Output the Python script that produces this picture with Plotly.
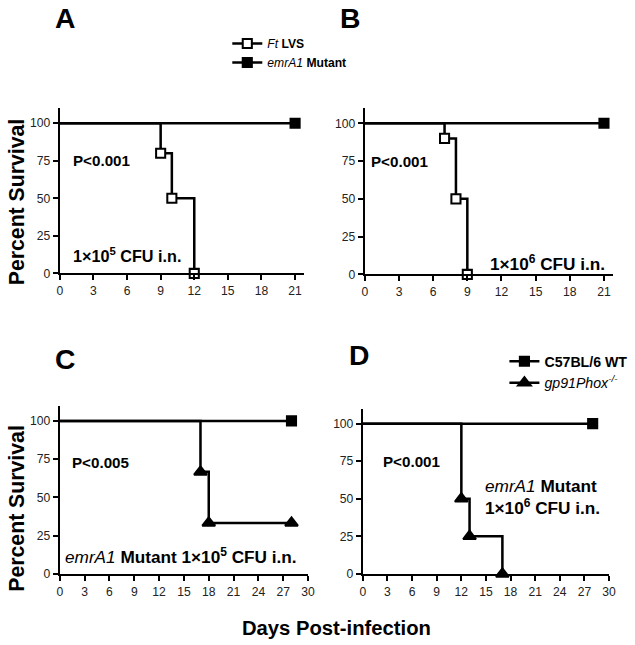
import plotly.graph_objects as go

# ---------------- data ----------------
A_days_lvs = [0, 9, 10, 12]
A_surv_lvs = [100, 80, 50, 0]
A_days_mut = [0, 21]
A_surv_mut = [100, 100]

B_days_lvs = [0, 7, 8, 9]
B_surv_lvs = [100, 90, 50, 0]
B_days_mut = [0, 21]
B_surv_mut = [100, 100]

C_days_wt = [0, 28]
C_surv_wt = [100, 100]
C_days_ko = [0, 17, 18, 28]
C_surv_ko = [100, 66.7, 33.3, 33.3]

D_days_wt = [0, 28]
D_surv_wt = [100, 100]
D_days_ko = [0, 12, 13, 17]
D_surv_ko = [100, 50, 25, 0]

y_ticks = [0, 25, 50, 75, 100]
x_ticks_ab = list(range(0, 22, 3))
x_ticks_cd = list(range(0, 31, 3))

# ---------------- style / layout ----------------
S = 1.012            # compensation for the capture scale
W0, H0 = 635, 645    # reference pixel frame
W, H = round(W0 * S), round(H0 * S)

FONT = "Liberation Sans, Arial, sans-serif"
LW = 2.5 * S

fig = go.Figure()

def series(days, surv, xa, ya, symbol, fill, size):
    fig.add_trace(go.Scatter(x=days, y=surv, mode="lines", line=dict(color="black", width=LW, shape="hv"),
                             xaxis=xa, yaxis=ya, showlegend=False, hoverinfo="skip"))
    fig.add_trace(go.Scatter(x=days[1:], y=surv[1:], mode="markers",
                             marker=dict(symbol=symbol, size=size * S, color=fill,
                                         line=dict(color="black", width=2 * S)),
                             xaxis=xa, yaxis=ya, showlegend=False, cliponaxis=False))

series(A_days_mut, A_surv_mut, "x", "y", "square", "black", 9)
series(A_days_lvs, A_surv_lvs, "x", "y", "square", "white", 9)
series(B_days_mut, B_surv_mut, "x2", "y2", "square", "black", 9)
series(B_days_lvs, B_surv_lvs, "x2", "y2", "square", "white", 9)
series(C_days_wt, C_surv_wt, "x3", "y3", "square", "black", 9)
series(C_days_ko, C_surv_ko, "x3", "y3", "triangle-up", "black", 11)
series(D_days_wt, D_surv_wt, "x4", "y4", "square", "black", 9)
series(D_days_ko, D_surv_ko, "x4", "y4", "triangle-up", "black", 11)

# legend entries
def leg(name, symbol, fill, legend, size=9):
    fig.add_trace(go.Scatter(x=[None], y=[None], mode="lines+markers", name=name,
                             line=dict(color="black", width=LW),
                             marker=dict(symbol=symbol, size=size * S, color=fill, line=dict(color="black", width=2 * S)),
                             legend=legend, xaxis="x", yaxis="y"))

leg("<i>Ft</i> <b>LVS</b>", "square", "white", "legend")
leg("<i>emrA1</i> <b>Mutant</b>", "square", "black", "legend")
leg("<b>C57BL/6 WT</b>", "square", "black", "legend2")
leg("<i>gp91Phox<sup>-/-</sup></i>", "triangle-up", "black", "legend2", size=11)

def xd(a, b):
    return [a / W0, b / W0]

def yd(bottom_px, top_px):
    return [(H0 - bottom_px) / H0, (H0 - top_px) / H0]

axis_common = dict(showline=True, linecolor="black", linewidth=2 * S, ticks="outside", ticklen=5 * S,
                   tickwidth=2 * S, tickcolor="black", showgrid=False, zeroline=False,
                   tickfont=dict(family=FONT, size=12 * S, color="#222"), fixedrange=True)

layout_axes = dict(
    xaxis=dict(domain=xd(57, 302), range=[0, 21.8], tickvals=x_ticks_ab, anchor="y", **axis_common),
    yaxis=dict(domain=yd(273, 108), range=[0, 110], tickvals=y_ticks, anchor="x", **axis_common),
    xaxis2=dict(domain=xd(363, 612), range=[0, 21.8], tickvals=x_ticks_ab, anchor="y2", **axis_common),
    yaxis2=dict(domain=yd(274, 108), range=[0, 110], tickvals=y_ticks, anchor="x2", **axis_common),
    xaxis3=dict(domain=xd(57, 306), range=[0, 30], tickvals=x_ticks_cd, anchor="y3", **axis_common),
    yaxis3=dict(domain=yd(573, 405), range=[0, 110], tickvals=y_ticks, anchor="x3", **axis_common),
    xaxis4=dict(domain=xd(361, 608), range=[0, 30], tickvals=x_ticks_cd, anchor="y4", **axis_common),
    yaxis4=dict(domain=yd(573, 408), range=[0, 110], tickvals=y_ticks, anchor="x4", **axis_common),
)

ann = []
def pa(text, x, y, size, xanchor="center", yanchor="middle", angle=0):
    ann.append(dict(text=text, x=x / W0, y=1 - y / H0, xref="paper", yref="paper", showarrow=False,
                    xanchor=xanchor, yanchor=yanchor, textangle=angle,
                    font=dict(family=FONT, size=size * S, color="black")))

def da(text, x, y, xr, yr, size=15, xanchor="left", align="left"):
    ann.append(dict(text=text, x=x, y=y, xref=xr, yref=yr, showarrow=False, xanchor=xanchor,
                    yanchor="middle", align=align, font=dict(family=FONT, size=size * S, color="black")))

pa("<b>A</b>", 62, 18, 28)
pa("<b>B</b>", 348, 18, 28)
pa("<b>C</b>", 62, 358, 28)
pa("<b>D</b>", 357, 354, 28)
pa("<b>Percent Survival</b>", 14, 201, 21, angle=-90)
pa("<b>Percent Survival</b>", 14, 507, 21, angle=-90)
pa("<b>Days Post-infection</b>", 335, 627, 20)

da("<b>P<0.001</b>", 1.0, 75, "x", "y")
da("<b>1×10<sup>5</sup> CFU i.n.</b>", 1.0, 12, "x", "y", size=16)
da("<b>P<0.001</b>", 0.4, 75, "x2", "y2")
da("<b>1×10<sup>6</sup> CFU i.n.</b>", 21.3, 7.5, "x2", "y2", size=17, xanchor="right")
da("<b>P<0.005</b>", 1.2, 73, "x3", "y3")
da("<i>emrA1</i><b> Mutant 1×10<sup>5</sup> CFU i.n.</b>", 0.4, 12, "x3", "y3", size=17)
da("<b>P<0.001</b>", 2.2, 75, "x4", "y4")
da("<i>emrA1</i><b> Mutant</b><br><b>1×10<sup>6</sup> CFU i.n.</b>", 14.6, 51, "x4", "y4", size=17)

fig.update_layout(
    width=W, height=H, margin=dict(l=0, r=0, t=0, b=0),
    paper_bgcolor="white", plot_bgcolor="white",
    font=dict(family=FONT, color="black"),
    annotations=ann,
    legend=dict(x=225 / W0, y=1 - 29 / H0, xanchor="left", yanchor="top", bgcolor="rgba(0,0,0,0)",
                font=dict(family=FONT, size=12 * S, color="black"), itemclick=False, itemdoubleclick=False),
    legend2=dict(x=503 / W0, y=1 - 345 / H0, xanchor="left", yanchor="top", bgcolor="rgba(0,0,0,0)",
                 font=dict(family=FONT, size=14 * S, color="black"), itemclick=False, itemdoubleclick=False),
    **layout_axes,
)

fig.write_html("out.html", config={"displayModeBar": False},
               post_script="document.body.style.margin='0';document.body.style.overflow='hidden';")
